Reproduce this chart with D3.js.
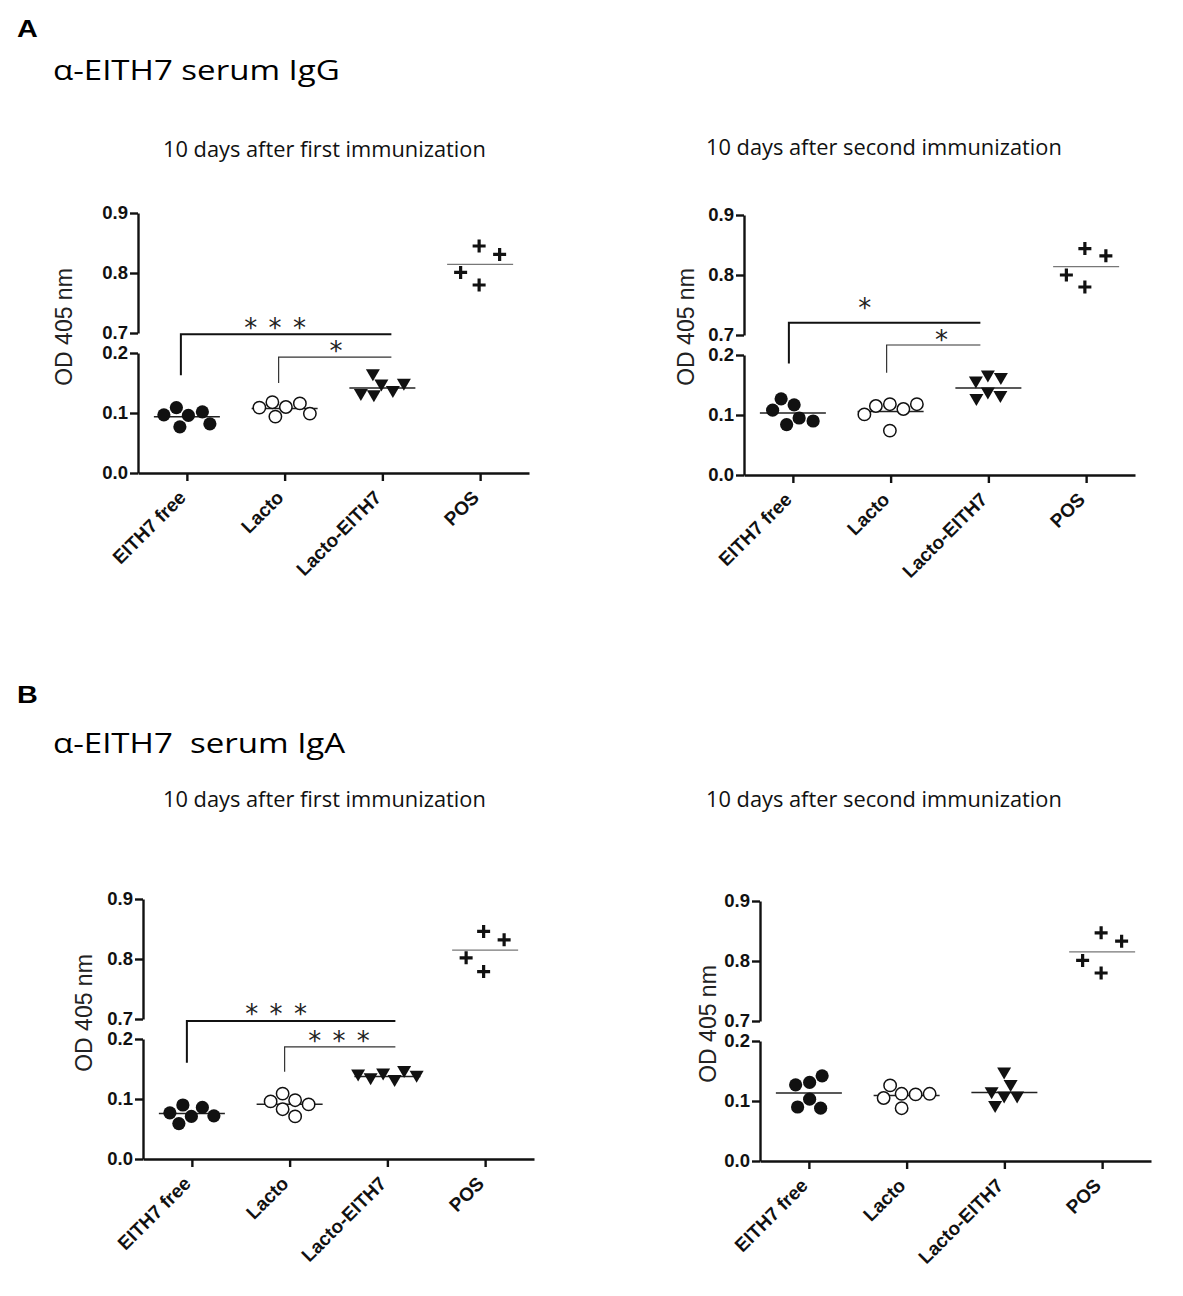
<!DOCTYPE html>
<html>
<head>
<meta charset="utf-8">
<script src="https://cdn.jsdelivr.net/npm/d3@7"></script>
<style>
  body { margin: 0; background: #fff; }
  .arial { font-family: 'Liberation Sans', Arial, Helvetica, sans-serif; }
  .myriad { font-family: 'Open Sans', 'Noto Sans', sans-serif; }
  .stars { font-family: 'DejaVu Sans', sans-serif; }
</style>
</head>
<body>
<svg id="fig" width="1183" height="1296"></svg>
<script>
// groups on the x axis
const groups = ["EITH7 free", "Lacto", "Lacto-EITH7", "POS"];
const yTicksLow = [0.0, 0.1, 0.2];
const yTicksHigh = [0.7, 0.8, 0.9];

// OD 405 nm readings, IgG, first immunization
const igG1Free = [0.096, 0.102, 0.077, 0.082, 0.109, 0.097];
const igG1Lacto = [0.110, 0.116, 0.094, 0.099, 0.118, 0.109];
const igG1LactoEith = [0.146, 0.135, 0.163, 0.128, 0.130, 0.147];
const igG1Pos = [0.780, 0.845, 0.801, 0.831];

// IgG, second immunization
const igG2Free = [0.117, 0.095, 0.127, 0.084, 0.090, 0.108];
const igG2Lacto = [0.118, 0.074, 0.115, 0.110, 0.101, 0.118];
const igG2LactoEith = [0.136, 0.164, 0.125, 0.160, 0.130, 0.154];
const igG2Pos = [0.780, 0.844, 0.800, 0.832];

// IgA, first immunization
const igA1Free = [0.071, 0.086, 0.059, 0.072, 0.090, 0.077];
const igA1Lacto = [0.098, 0.091, 0.109, 0.071, 0.083, 0.096];
const igA1LactoEith = [0.141, 0.130, 0.133, 0.145, 0.139, 0.137];
const igA1Pos = [0.779, 0.846, 0.802, 0.832];

// IgA, second immunization
const igA2Free = [0.131, 0.103, 0.127, 0.088, 0.142, 0.090];
const igA2Lacto = [0.112, 0.111, 0.126, 0.088, 0.105, 0.112];
const igA2LactoEith = [0.106, 0.146, 0.090, 0.125, 0.106, 0.113];
const igA2Pos = [0.780, 0.847, 0.801, 0.833];

// significance brackets: from/to group index, level and left drop in OD units
const bracketsG1 = [
  { from: 0, to: 2, level: 0.667, drop: 0.163, label: "* * *", outer: true },
  { from: 1, to: 2, level: 0.193, drop: 0.150, label: "*", outer: false }
];
const bracketsG2 = [
  { from: 0, to: 2, level: 0.7205, drop: 0.186, label: "*", outer: true },
  { from: 1, to: 2, level: 0.45, drop: 0.1705, label: "*", outer: false }
];
const bracketsA1 = [
  { from: 0, to: 2, level: 0.65, drop: 0.1605, label: "* * *", outer: true },
  { from: 1, to: 2, level: 0.187, drop: 0.1455, label: "* * *", outer: false }
];

const svg = d3.select("#fig");
const axisW = 391;

// panel layout
const panels = [
  { x0: 138, y0: 473, sub: "10 days after first immunization", subX: 163, subY: 157,
    series: [igG1Free, igG1Lacto, igG1LactoEith, igG1Pos], brackets: bracketsG1,
    labX: 64, labY: 327, padL: -6, padR: 9, star: [[-11, -12], [1, -12]] },
  { x0: 744, y0: 475, sub: "10 days after second immunization", subX: 706, subY: 155,
    series: [igG2Free, igG2Lacto, igG2LactoEith, igG2Pos], brackets: bracketsG2,
    labX: 686, labY: 327, padL: -4, padR: -8, star: [[-20, -21], [8, -11]] },
  { x0: 143, y0: 1159, sub: "10 days after first immunization", subX: 163, subY: 807,
    series: [igA1Free, igA1Lacto, igA1LactoEith, igA1Pos], brackets: bracketsA1,
    labX: 84, labY: 1013, padL: -5, padR: 8, star: [[-15, -13], [-1, -12]] },
  { x0: 760, y0: 1161, sub: "10 days after second immunization", subX: 706, subY: 807,
    series: [igA2Free, igA2Lacto, igA2LactoEith, igA2Pos], brackets: [],
    labX: 708, labY: 1024, padL: 0, padR: 0, star: [] }
];

// panel letters and headings
svg.append("text").attr("class", "arial").attr("transform", "translate(17,37) scale(1.2,1)")
  .attr("font-weight", "bold").attr("font-size", 24).text("A");
svg.append("text").attr("class", "arial").attr("transform", "translate(17,703) scale(1.2,1)")
  .attr("font-weight", "bold").attr("font-size", 24).text("B");

svg.append("text").attr("class", "myriad").attr("transform", "translate(53,80) scale(1.18,1)")
  .attr("font-size", 28).style("white-space", "pre").text("α-EITH7 serum IgG");
svg.append("text").attr("class", "myriad").attr("transform", "translate(53,753) scale(1.18,1)")
  .attr("font-size", 28).style("white-space", "pre").text("α-EITH7  serum IgA");

// symbols
const triangle = "M-7,-6L7,-6L0,6Z";
const cross = "M-6.5,0H6.5M0,-6.5V6.5";

// simple beeswarm: spread points horizontally so they do not sit on top of each other
function swarm(vals, y, dist) {
  const placed = [];
  vals.forEach((v, i) => {
    const py = y(v);
    let off = 0;
    for (let k = 0; k < 80; k += 0.5) {
      const cands = k === 0 ? [0] : (i % 2 ? [k, -k] : [-k, k]);
      const ok = cands.find(c => placed.every(p => (p.x - c) ** 2 + (p.y - py) ** 2 >= dist * dist));
      if (ok !== undefined) { off = ok; break; }
    }
    placed.push({ x: off, y: py, v });
  });
  const mid = (d3.min(placed, p => p.x) + d3.max(placed, p => p.x)) / 2;
  placed.forEach(p => p.x -= mid);
  return placed;
}

panels.forEach(p => {
  const g = svg.append("g");

  // broken axis: 0-0.2 and 0.7-0.9 with a short gap between
  const y = d3.scaleLinear()
    .domain([0, 0.2, 0.7, 0.9])
    .range([p.y0, p.y0 - 120, p.y0 - 140, p.y0 - 260]);
  const yLow = d3.scaleLinear().domain([0, 0.2]).range([p.y0, p.y0 - 120]);
  const yHigh = d3.scaleLinear().domain([0.7, 0.9]).range([p.y0 - 140, p.y0 - 260]);
  const x = d3.scalePoint().domain(groups).range([p.x0, p.x0 + axisW]).padding(0.5);

  g.append("text").attr("class", "myriad")
    .attr("x", p.subX).attr("y", p.subY)
    .attr("font-size", 21.8)
    .attr("fill", "#111")
    .text(p.sub);

  const styleAxis = sel => {
    sel.attr("font-size", null).attr("font-family", null);
    sel.selectAll("path, line").attr("stroke", "#111").attr("stroke-width", 2.4);
    sel.selectAll("text").attr("class", "arial")
      .attr("font-weight", "bold").attr("font-size", 18.5).attr("fill", "#111");
  };

  g.append("g").attr("transform", `translate(${p.x0},0)`)
    .call(d3.axisLeft(yLow).tickValues(yTicksLow).tickFormat(d3.format(".1f")).tickSize(8).tickSizeOuter(0).tickPadding(2))
    .call(styleAxis);
  g.append("g").attr("transform", `translate(${p.x0},0)`)
    .call(d3.axisLeft(yHigh).tickValues(yTicksHigh).tickFormat(d3.format(".1f")).tickSize(8).tickSizeOuter(0).tickPadding(2))
    .call(styleAxis);

  const xg = g.append("g").attr("transform", `translate(0,${p.y0})`)
    .call(d3.axisBottom(x).tickSize(8).tickSizeOuter(0))
    .call(styleAxis);
  xg.selectAll("text")
    .attr("text-anchor", "end")
    .attr("transform", "translate(-5,21) rotate(-45)")
    .attr("y", 0).attr("x", 0).attr("dy", "0.35em")
    .attr("font-size", 19);

  g.append("text").attr("class", "arial")
    .attr("transform", `translate(${p.labX},${p.labY}) rotate(-90)`)
    .attr("text-anchor", "middle").attr("dy", "0.35em")
    .attr("font-size", 23)
    .attr("fill", "#222")
    .text("OD 405 nm");

  // mean lines
  p.series.forEach((vals, gi) => {
    const cx = x(groups[gi]);
    g.append("line")
      .attr("x1", cx - 33).attr("x2", cx + 33)
      .attr("y1", y(d3.mean(vals))).attr("y2", y(d3.mean(vals)))
      .attr("stroke", gi === 3 ? "#777" : "#222")
      .attr("stroke-width", gi === 3 ? 1.2 : 1.5);
  });

  // points
  p.series.forEach((vals, gi) => {
    const cx = x(groups[gi]);
    const pts = swarm(vals, y, gi === 3 ? 22 : (gi === 2 ? 13 : 14));
    const sel = g.append("g").selectAll(null).data(pts).enter();
    if (gi === 0) {
      sel.append("circle").attr("cx", d => cx + d.x).attr("cy", d => d.y).attr("r", 6.6).attr("fill", "#111");
    } else if (gi === 1) {
      sel.append("circle").attr("cx", d => cx + d.x).attr("cy", d => d.y).attr("r", 6.2)
        .attr("fill", "#fff").attr("stroke", "#111").attr("stroke-width", 1.5);
    } else if (gi === 2) {
      sel.append("path").attr("d", triangle).attr("fill", "#111")
        .attr("transform", d => `translate(${cx + d.x},${d.y})`);
    } else {
      sel.append("path").attr("d", cross).attr("stroke", "#111").attr("stroke-width", 3.2)
        .attr("fill", "none").attr("transform", d => `translate(${cx + d.x},${d.y})`);
    }
  });

  // significance brackets
  const starSize = 26;
  p.brackets.forEach((b, bi) => {
    const xl = x(groups[b.from]) + p.padL;
    const xr = x(groups[b.to]) + p.padR;
    const ly = y(b.level);
    g.append("path")
      .attr("d", `M${xl},${y(b.drop)}V${ly}H${xr}`)
      .attr("fill", "none")
      .attr("stroke", b.outer ? "#111" : "#333")
      .attr("stroke-width", b.outer ? 2 : 1.2);
    const [sdx, sdy] = p.star[bi];
    g.append("text").attr("class", "stars")
      .attr("x", (xl + xr) / 2 + sdx).attr("y", ly + sdy + 0.58 * starSize)
      .attr("text-anchor", "middle")
      .attr("font-size", starSize)
      .attr("word-spacing", 3)
      .style("white-space", "pre")
      .attr("fill", "#222")
      .text(b.label);
  });
});
</script>
</body>
</html>
